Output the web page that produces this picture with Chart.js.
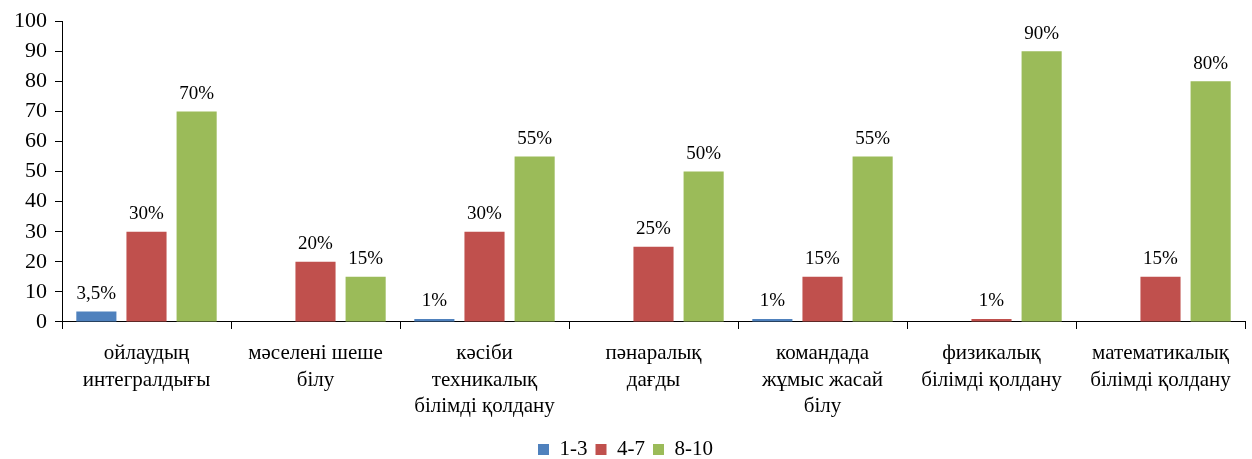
<!DOCTYPE html>
<html>
<head>
<meta charset="utf-8">
<script src="https://cdn.jsdelivr.net/npm/chart.js@4/dist/chart.umd.min.js"></script>
<style>
  html, body { margin: 0; padding: 0; background: #fff; }
  #wrap { width: 1252px; height: 459px; }
</style>
</head>
<body>
<div id="wrap"><canvas id="myChart"></canvas></div>
<script>
"use strict";

// Categories (multi-line, as in the source picture)
var categories = [
    ["ойлаудың", "интегралдығы"],
    ["мәселені шеше", "білу"],
    ["кәсіби", "техникалық", "білімді қолдану"],
    ["пәнаралық", "дағды"],
    ["командада", "жұмыс жасай", "білу"],
    ["физикалық", "білімді қолдану"],
    ["математикалық", "білімді қолдану"]
];

// Series values
var grade1to3 = [3.5, null, 1, null, 1, null, null];
var grade4to7 = [30, 20, 30, 25, 15, 1, 15];
var grade8to10 = [70, 15, 55, 50, 55, 90, 80];

// Text printed above each bar
var labels1to3 = ["3,5%", "", "1%", "", "1%", "", ""];
var labels4to7 = ["30%", "20%", "30%", "25%", "15%", "1%", "15%"];
var labels8to10 = ["70%", "15%", "55%", "50%", "55%", "90%", "80%"];

var yTicks = [0, 10, 20, 30, 40, 50, 60, 70, 80, 90, 100];

var fontFamily = "'Liberation Serif', 'Times New Roman', serif";

//Draws the value labels on top of the bars.
var barLabels = {
    id: 'barLabels',
    afterDatasetsDraw: function (chart) {
        var ctx = chart.ctx;
        ctx.save();
        ctx.font = "19px " + fontFamily;
        ctx.fillStyle = "#000";
        ctx.textAlign = "center";
        ctx.textBaseline = "bottom";
        chart.data.datasets.forEach(function (ds, i) {
            var meta = chart.getDatasetMeta(i);
            meta.data.forEach(function (bar, j) {
                var txt = ds.valueLabels[j];
                if (txt && ds.data[j] !== null) {
                    ctx.fillText(txt, bar.x, bar.y - 8);
                }
            });
        });
        ctx.restore();
    }
};

var ctx = document.getElementById('myChart').getContext('2d');
var myChart = new Chart(ctx, {
    type: 'bar',
    data: {
        labels: categories,
        datasets: [{
            label: '1-3',
            data: grade1to3,
            valueLabels: labels1to3,
            backgroundColor: '#4F81BD'
        }, {
            label: '4-7',
            data: grade4to7,
            valueLabels: labels4to7,
            backgroundColor: '#C0504D'
        }, {
            label: '8-10',
            data: grade8to10,
            valueLabels: labels8to10,
            backgroundColor: '#9BBB59'
        }]
    },
    options: {
        responsive: true,
        maintainAspectRatio: false,
        animation: false,
        categoryPercentage: 0.89,
        barPercentage: 0.8,
        layout: {
            padding: { top: 11, right: 7, left: 6, bottom: -11 }
        },
        plugins: {
            legend: {
                position: 'bottom',
                labels: {
                    font: { family: fontFamily, size: 21 },
                    color: '#000',
                    boxWidth: 11,
                    boxHeight: 11,
                    padding: 8
                }
            },
            tooltip: { enabled: false }
        },
        scales: {
            x: {
                grid: {
                    offset: true,
                    drawOnChartArea: false,
                    drawTicks: true,
                    tickLength: 7,
                    color: '#000'
                },
                border: { color: '#000', width: 1 },
                ticks: {
                    font: { family: fontFamily, size: 21, lineHeight: 1.27 },
                    color: '#000',
                    maxRotation: 0,
                    autoSkip: false,
                    padding: 11
                }
            },
            y: {
                min: 0,
                max: 100,
                afterBuildTicks: function (axis) {
                    axis.ticks = yTicks.map(function (v) { return { value: v }; });
                },
                grid: {
                    drawOnChartArea: false,
                    drawTicks: true,
                    tickLength: 7,
                    color: '#000'
                },
                border: { color: '#000', width: 1 },
                ticks: {
                    font: { family: fontFamily, size: 22 },
                    color: '#000',
                    autoSkip: false,
                    padding: 8
                }
            }
        }
    },
    plugins: [barLabels]
});
</script>
</body>
</html>
